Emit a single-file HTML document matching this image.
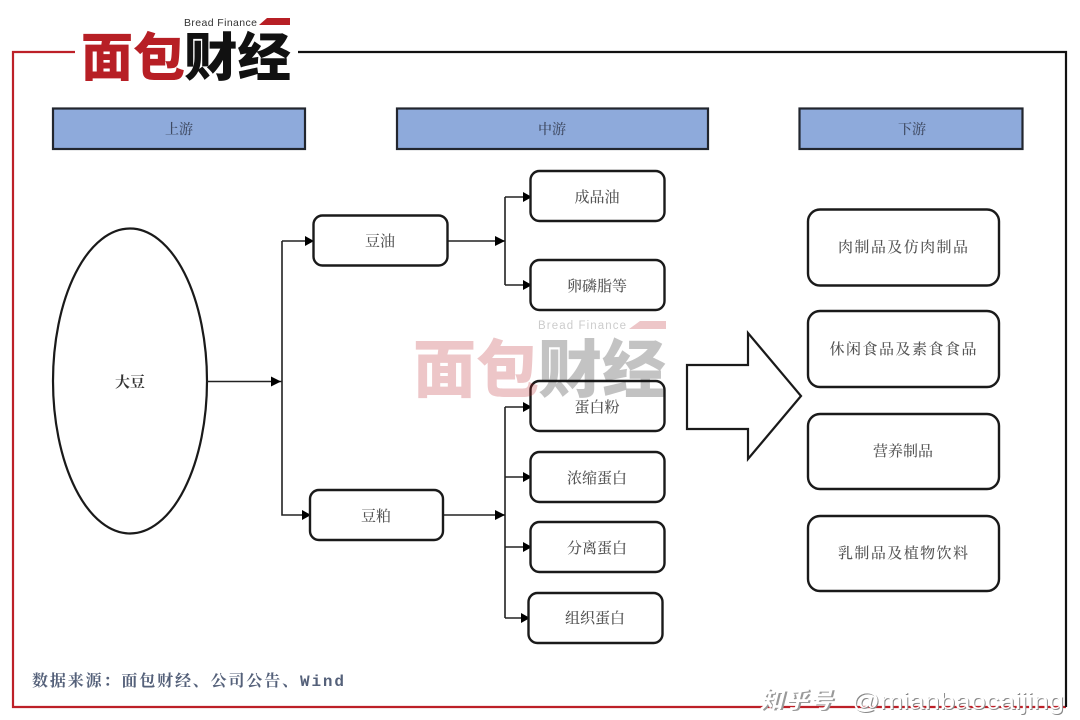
<!DOCTYPE html>
<html lang="zh">
<head>
<meta charset="utf-8">
<title>大豆产业链</title>
<style>
html,body{margin:0;padding:0;background:#fff;}
svg{display:block;width:1080px;height:720px;}
text{font-family:"Liberation Serif","Noto Serif CJK SC",serif;}
.lb{font-size:15px;fill:#555;text-anchor:middle;font-weight:500;}
.hd{font-size:14px;fill:#3f4a62;text-anchor:middle;font-weight:500;}
.bx{fill:#fff;stroke:#1a1a1a;stroke-width:2.4;}
.hb{fill:#8eaadb;stroke:#22262e;stroke-width:2.2;}
.ln{fill:none;stroke:#222;stroke-width:1.6;}
.ar{fill:#000;}
text.lg{font-family:"Liberation Sans","Noto Sans CJK SC",sans-serif;font-weight:900;}
text.en{font-family:"Liberation Sans",sans-serif;}
text.src{font-family:"Liberation Mono","Noto Serif CJK SC",monospace;font-weight:700;}
text.wm{font-family:"Liberation Sans","Noto Sans CJK SC",sans-serif;}
.soft{filter:blur(0.35px);}
</style>
</head>
<body>
<svg xmlns="http://www.w3.org/2000/svg" width="1080" height="720" viewBox="0 0 1080 720">
<rect width="1080" height="720" fill="#fff"/>

<g class="soft">
<!-- frame -->
<path d="M75 52H13V707H1066" fill="none" stroke="#bd2028" stroke-width="2.2"/>
<path d="M298 52H1066V707" fill="none" stroke="#111" stroke-width="2.2"/>

<!-- logo -->
<text class="lg" x="81" y="76" font-size="52" fill="#b71f25" textLength="104" lengthAdjust="spacingAndGlyphs">面包</text>
<text class="lg" x="184" y="76" font-size="52" fill="#111" textLength="107" lengthAdjust="spacingAndGlyphs">财经</text>
<text class="en" x="184" y="26" font-size="10.500" fill="#333" textLength="73">Bread Finance</text>
<polygon points="259,25 267,18 290,18 290,25" fill="#b71f25"/>

<!-- headers -->
<rect class="hb" x="53" y="108.500" width="252" height="40.500"/>
<text class="hd" x="179" y="134">上游</text>
<rect class="hb" x="397" y="108.500" width="311" height="40.500"/>
<text class="hd" x="552" y="134">中游</text>
<rect class="hb" x="799.500" y="108.500" width="223" height="40.500"/>
<text class="hd" x="912" y="134">下游</text>

<!-- ellipse -->
<ellipse cx="130" cy="381" rx="77" ry="152.500" fill="#fff" stroke="#1a1a1a" stroke-width="2.2"/>
<text x="130" y="387" font-size="15" font-weight="700" fill="#333" text-anchor="middle">大豆</text>

<!-- connectors -->
<path class="ln" d="M207 381.500H282M282 241H313M282 241V515H310"/>
<path class="ln" d="M447 241H505M505 197V285M505 197H531M505 285H531"/>
<path class="ln" d="M443 515H505M505 407V618M505 407H531M505 477H531M505 547H531M505 618H529"/>

<!-- arrowheads -->
<polygon class="ar" points="281,381.500 271,376.500 271,386.500"/>
<polygon class="ar" points="314,241 305,236 305,246"/>
<polygon class="ar" points="311,515 302,510 302,520"/>
<polygon class="ar" points="505,241 495,236 495,246"/>
<polygon class="ar" points="532,197 523,192 523,202"/>
<polygon class="ar" points="532,285 523,280 523,290"/>
<polygon class="ar" points="505,515 495,510 495,520"/>
<polygon class="ar" points="532,407 523,402 523,412"/>
<polygon class="ar" points="532,477 523,472 523,482"/>
<polygon class="ar" points="532,547 523,542 523,552"/>
<polygon class="ar" points="530,618 521,613 521,623"/>

<!-- middle nodes -->
<rect class="bx" x="313.500" y="215.500" width="134" height="50" rx="9"/>
<text class="lb" x="380" y="246">豆油</text>
<rect class="bx" x="310" y="490" width="133" height="50" rx="9"/>
<text class="lb" x="376" y="521">豆粕</text>

<rect class="bx" x="530.500" y="171" width="134" height="50" rx="9"/>
<text class="lb" x="597" y="202">成品油</text>
<rect class="bx" x="530.500" y="260" width="134" height="50" rx="9"/>
<text class="lb" x="597" y="291">卵磷脂等</text>
<rect class="bx" x="530.500" y="381" width="134" height="50" rx="9"/>
<text class="lb" x="597" y="412">蛋白粉</text>
<rect class="bx" x="530.500" y="452" width="134" height="50" rx="9"/>
<text class="lb" x="597" y="483">浓缩蛋白</text>
<rect class="bx" x="530.500" y="522" width="134" height="50" rx="9"/>
<text class="lb" x="597" y="553">分离蛋白</text>
<rect class="bx" x="528.500" y="593" width="134" height="50" rx="9"/>
<text class="lb" x="595" y="623">组织蛋白</text>

<!-- big arrow -->
<polygon points="687,365 748,365 748,333 801,396 748,459 748,429 687,429" fill="#fff" stroke="#1a1a1a" stroke-width="2.2"/>

<!-- right nodes -->
<rect class="bx" x="808" y="209.500" width="191" height="76" rx="12"/>
<text class="lb" x="903" y="252" textLength="130">肉制品及仿肉制品</text>
<rect class="bx" x="808" y="311" width="191" height="76" rx="12"/>
<text class="lb" x="903" y="354" textLength="147">休闲食品及素食食品</text>
<rect class="bx" x="808" y="414" width="191" height="75" rx="12"/>
<text class="lb" x="903" y="456">营养制品</text>
<rect class="bx" x="808" y="516" width="191" height="75" rx="12"/>
<text class="lb" x="903" y="558" textLength="130">乳制品及植物饮料</text>

<!-- center watermark -->
<g opacity="0.25">
<text class="lg" x="413" y="392" font-size="63" fill="#b71f25" textLength="126" lengthAdjust="spacingAndGlyphs">面包</text>
<text class="lg" x="538" y="392" font-size="63" fill="#111" textLength="128" lengthAdjust="spacingAndGlyphs">财经</text>
<text class="en" x="538" y="329" font-size="11.500" fill="#333" textLength="88">Bread Finance</text>
<polygon points="629,329 640,321 666,321 666,329" fill="#b71f25"/>
</g>

<!-- source -->
<text class="src" x="32" y="686" font-size="16" fill="#55617a" textLength="312">数据来源：面包财经、公司公告、Wind</text>
</g>

<!-- bottom-right watermark -->
<text class="wm" x="762" y="709" font-size="23" font-weight="700" font-style="italic" fill="#999" textLength="72">知乎号</text>
<text class="wm" x="760" y="708" font-size="23" font-weight="700" font-style="italic" fill="#fff" textLength="72">知乎号</text>
<text class="wm" x="853" y="710" font-size="23" fill="#888" textLength="212" lengthAdjust="spacingAndGlyphs">@mianbaocaijing</text>
<text class="wm" x="852" y="709" font-size="23" fill="#fff" textLength="212" lengthAdjust="spacingAndGlyphs">@mianbaocaijing</text>
</svg>
</body>
</html>
